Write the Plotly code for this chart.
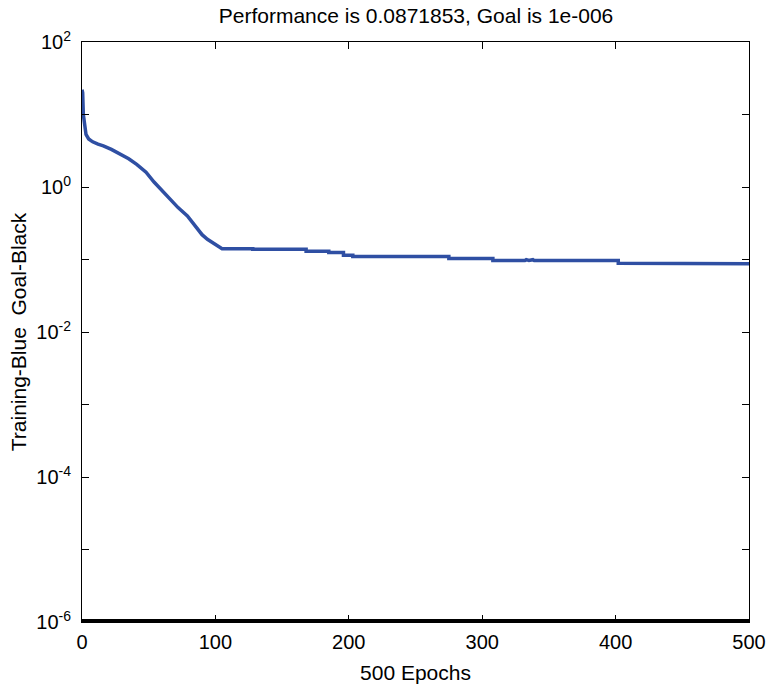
import plotly.graph_objects as go

# Training performance
epochs = [0, 0.5, 1, 2, 3, 5, 8, 12, 16, 22, 29, 35, 41, 48, 54, 60, 66, 72, 79, 86, 90, 94, 100, 105,
          128, 128, 168, 168, 185, 185, 196, 196, 203, 203, 275, 275, 308, 308, 332, 333, 335, 338, 339, 341,
          402, 402, 500]
perf = [22, 20, 10, 6.5, 5.3, 4.6, 4.2, 3.9, 3.7, 3.3, 2.85, 2.45, 2.05, 1.6, 1.17, 0.9, 0.68, 0.52, 0.40,
        0.27, 0.22, 0.19, 0.16, 0.141,
        0.141, 0.139, 0.139, 0.130, 0.130, 0.125, 0.125, 0.114, 0.114, 0.110, 0.110, 0.103, 0.103, 0.097,
        0.097, 0.0995, 0.097, 0.0995, 0.097, 0.097,
        0.097, 0.0885, 0.0872]

goal_epochs = [0, 500]
goal = [1e-6, 1e-6]

y_tickvals = [1e2, 1e0, 1e-2, 1e-4, 1e-6]
y_ticktext = ["10<sup>2</sup>", "10<sup>0</sup>", "10<sup>-2</sup>", "10<sup>-4</sup>", "10<sup>-6</sup>"]
y_minor_tickvals = [1e1, 1e-1, 1e-3, 1e-5]
x_tickvals = [0, 100, 200, 300, 400, 500]

fig = go.Figure()
fig.add_trace(go.Scatter(x=goal_epochs, y=goal, mode="lines",
                         line=dict(color="black", width=6), showlegend=False))
fig.add_trace(go.Scatter(x=epochs, y=perf, mode="lines",
                         line=dict(color="#2F4FA3", width=3.5), showlegend=False))

font_family = "Liberation Sans, Arial, sans-serif"
fig.update_layout(
    width=771, height=687,
    margin=dict(l=82, r=22, t=42, b=65),
    paper_bgcolor="white", plot_bgcolor="white",
    font=dict(family=font_family, color="black", size=20),
    title=dict(text="Performance is 0.0871853, Goal is 1e-006", x=416 / 771, xanchor="center",
               y=1 - 16 / 687, yanchor="middle", font=dict(size=21, family=font_family, color="black")),
)
fig.update_xaxes(range=[0, 500], tickvals=x_tickvals, ticks="inside", ticklen=7, tickcolor="black",
                 showline=True, linecolor="black", linewidth=1, mirror="allticks", showgrid=False,
                 zeroline=False, tickfont=dict(size=20), ticklabelstandoff=2, automargin=False,
                 title=dict(text="500 Epochs", font=dict(size=21), standoff=13))
fig.update_yaxes(type="log", range=[-6, 2], tickvals=y_tickvals, ticktext=y_ticktext,
                 ticks="inside", ticklen=7, tickcolor="black",
                 minor=dict(tickvals=y_minor_tickvals, ticks="inside", ticklen=7, tickcolor="black",
                            showgrid=False),
                 showline=True, linecolor="black", linewidth=1, mirror="allticks", showgrid=False,
                 zeroline=False, tickfont=dict(size=20), ticklabelstandoff=6, automargin=False,
                 title=dict(text="Training-Blue&nbsp; Goal-Black", font=dict(size=21), standoff=3))

fig.write_html("out.html", config={"displayModeBar": False},
               post_script="document.body.style.margin='0px';")
